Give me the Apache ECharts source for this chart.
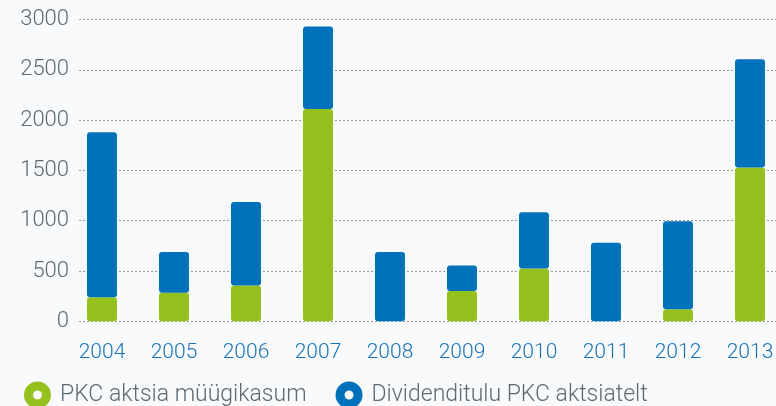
<!DOCTYPE html>
<html style="height: 100%">
<head>
    <meta charset="utf-8">
    <title>PKC</title>
    <script type="text/javascript" src="https://cdn.jsdelivr.net/npm/echarts@6/dist/echarts.min.js"></script>
</head>
<body style="height: 100%; margin: 0; background: #f9fafb;">
<div id="container" style="width: 776px; height: 406px;"></div>
<script type="text/javascript">
    var years = ['2004', '2005', '2006', '2007', '2008', '2009', '2010', '2011', '2012', '2013'];
    // alumine osa (roheline)
    var saleGain = [240, 285, 355, 2110, 0, 300, 525, 0, 120, 1530];
    // ülemine osa (sinine)
    var dividends = [1640, 405, 830, 820, 690, 255, 560, 780, 875, 1075];
    var yTicks = [0, 500, 1000, 1500, 2000, 2500, 3000];

    var green = '#95c11f';
    var blue = '#0071bb';
    var fontName = 'Roboto';
    // rõngakujuline legendi ikoon
    var ringIcon = 'path://M0,13.5A13.5,13.5,0,1,0,27,13.5A13.5,13.5,0,1,0,0,13.5Z' +
        'M9,13.5A4.5,4.5,0,1,1,18,13.5A4.5,4.5,0,1,1,9,13.5Z';

    var myChart = echarts.init(document.getElementById('container'));
    var option = {
        backgroundColor: '#f9fafb',
        animation: false,
        legend: {
            left: 24,
            top: 381.5,
            padding: 0,
            itemWidth: 27,
            itemHeight: 27,
            itemGap: 29,
            icon: ringIcon,
            textStyle: { fontFamily: fontName, fontWeight: 300, fontSize: 23, color: '#5b6a74', padding: [0, 0, 0, 4] },
            data: ['PKC aktsia müügikasum', 'Dividenditulu PKC aktsiatelt']
        },
        grid: [
            // ainult ruudujooned
            { left: 79, right: 0, top: 19.5, bottom: 84.7, outerBoundsMode: 'none', containLabel: false },
            // tulbad
            { left: 66, width: 720, top: 19.5, bottom: 84.7, outerBoundsMode: 'none', containLabel: false }
        ],
        xAxis: [
            { type: 'value', gridIndex: 0, show: false, min: 0, max: 1 },
            {
                type: 'category',
                gridIndex: 1,
                data: years,
                axisLine: { show: false },
                axisTick: { show: false },
                axisLabel: { margin: 21, fontFamily: fontName, fontWeight: 300, fontSize: 21, color: '#1a73b9' }
            }
        ],
        yAxis: [
            {
                type: 'value',
                gridIndex: 0,
                min: yTicks[0],
                max: yTicks[yTicks.length - 1],
                interval: 500,
                axisLine: { show: false },
                axisTick: { show: false },
                axisLabel: {
                    margin: 10, fontFamily: fontName, fontWeight: 300, fontSize: 22, color: '#5b6a74',
                    formatter: function (v) { return String(v); }
                },
                splitLine: { lineStyle: { color: '#9a9a9a', type: [2, 2], width: 1 } }
            },
            {
                type: 'value',
                gridIndex: 1,
                min: yTicks[0],
                max: yTicks[yTicks.length - 1],
                interval: 500,
                show: false,
                splitLine: { show: false }
            }
        ],
        series: [
            {
                name: 'PKC aktsia müügikasum',
                type: 'bar',
                stack: 'kokku',
                xAxisIndex: 1,
                yAxisIndex: 1,
                barWidth: 30,
                itemStyle: { color: green, borderRadius: 3 },
                data: saleGain
            },
            {
                name: 'Dividenditulu PKC aktsiatelt',
                type: 'bar',
                stack: 'kokku',
                xAxisIndex: 1,
                yAxisIndex: 1,
                barWidth: 30,
                itemStyle: { color: blue, borderRadius: 3 },
                data: dividends
            }
        ]
    };
    myChart.setOption(option, true);
</script>
</body>
</html>
